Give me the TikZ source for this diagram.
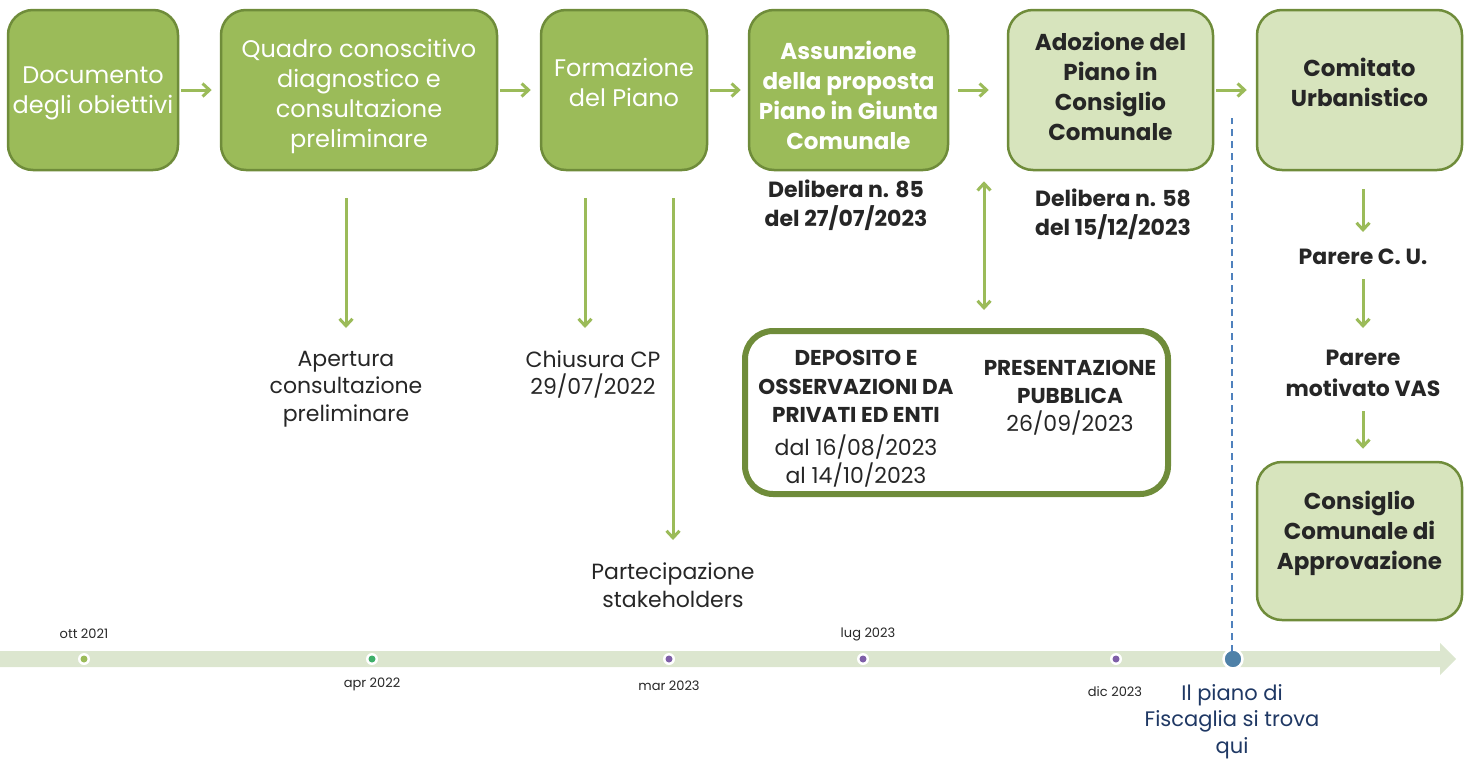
\documentclass[tikz,border=0pt]{standalone}
\usepackage{fontspec}
\setmainfont{Poppins}
\usetikzlibrary{arrows.meta}
\definecolor{gfill}{HTML}{9BBB59}
\definecolor{gline}{HTML}{6F8C3A}
\definecolor{lfill}{HTML}{D7E4BD}
\definecolor{band}{HTML}{DCE6CF}
\definecolor{txt}{HTML}{262626}
\definecolor{navy}{HTML}{1F3864}
\definecolor{dblue}{HTML}{4F81BD}
\definecolor{dotblue}{HTML}{4F81A8}
\definecolor{dotgreen}{HTML}{9BBB59}
\definecolor{dotgreen2}{HTML}{3FAF6A}
\definecolor{dotpurple}{HTML}{7F5FA8}
\tikzset{
  dbox/.style={draw=gline, line width=2.5pt, fill=gfill, rounded corners=25pt, inner sep=0pt, minimum height=160pt},
  lbox/.style={dbox, fill=lfill},
  wtxt/.style={inner sep=0pt, align=center, text=white, font=\fontsize{24}{30}\selectfont},
  wbtxt/.style={inner sep=0pt, align=center, text=white, font=\fontsize{23}{30}\selectfont\bfseries},
  dbtxt/.style={inner sep=0pt, align=center, text=txt, font=\fontsize{23}{30}\selectfont\bfseries},
  arr/.style={draw=gfill, line width=3pt, -{Straight Barb[length=7pt,width=13pt,line width=3pt]}},
  darr/.style={draw=gfill, line width=3pt, {Straight Barb[length=7pt,width=13pt,line width=3pt]}-{Straight Barb[length=7pt,width=13pt,line width=3pt]}},
  lab/.style={inner sep=0pt, align=center, text=txt, font=\fontsize{22}{27.5}\selectfont},
  blab/.style={inner sep=0pt, align=center, text=txt, font=\fontsize{22}{29}\selectfont\bfseries},
  tlab/.style={inner sep=0pt, text=txt, font=\fontsize{13}{15}\selectfont},
  sdot/.style={circle, fill=white, minimum size=12pt, inner sep=0pt},
}
\newcommand{\regf}{\mdseries\fontsize{22}{30}\selectfont}
\begin{document}
\begin{tikzpicture}[x=1pt,y=-1pt]
\useasboundingbox (0,0) rectangle (1469,758);

% top boxes
\node[dbox, minimum width=170pt] (b1) at (93,90) {};
\node[dbox, minimum width=276pt] (b2) at (359,90) {};
\node[dbox, minimum width=166pt] (b3) at (624,90) {};
\node[dbox, minimum width=199pt] (b4) at (848.5,90) {};
\node[lbox, minimum width=205pt] (b5) at (1110.5,90) {};
\node[lbox, minimum width=205pt] (b6) at (1359.5,90) {};
\node[lbox, minimum width=205pt, minimum height=158pt] (b7) at (1359.5,541) {};

\node[wtxt] (b1t) at ([yshift=-3.5pt]b1.center) {Documento\\degli obiettivi};
\node[wtxt] (b2t) at ([yshift=-6pt]b2.center) {Quadro conoscitivo\\diagnostico e\\consultazione\\preliminare};
\node[wtxt] (b3t) at ([yshift=8pt]b3.center) {Formazione\\del Piano};
\node[wbtxt] (b4t) at ([yshift=-5pt]b4.center) {Assunzione\\della proposta\\Piano in Giunta\\Comunale};
\node[dbtxt] (b5t) at ([yshift=3.5pt]b5.center) {Adozione del\\Piano in\\Consiglio\\Comunale};
\node[dbtxt] (b6t) at ([yshift=7.5pt]b6.center) {Comitato\\Urbanistico};
\node[dbtxt] (b7t) at ([yshift=7.5pt]b7.center) {Consiglio\\Comunale di\\Approvazione};

% horizontal arrows
\draw[arr, shorten <=2pt, shorten >=8pt] (b1.east) -- (b2.west);
\draw[arr, shorten <=2pt, shorten >=9pt] (b2.east) -- (b3.west);
\draw[arr, shorten <=2pt, shorten >=7pt] (b3.east) -- (b4.west);
\draw[arr, shorten <=9pt, shorten >=18pt] (b4.east) -- (b5.west);
\draw[arr, shorten <=2pt, shorten >=9pt] (b5.east) -- (b6.west);

% labels under boxes
\node[lab, anchor=north] (apert) at (346,351) {Apertura\\consultazione\\preliminare};
\node[lab, anchor=north] (chius) at (593,350.5) {Chiusura CP\\29/07/2022};
\node[lab, anchor=north] (parte) at (673,563) {Partecipazione\\stakeholders};
\node[blab, anchor=north] (del85) at (846,179.5) {Delibera n. 85\\del 27/07/2023};
\node[blab, anchor=north] (del58) at (1113,188.5) {Delibera n. 58\\del 15/12/2023};
\node[blab, anchor=north] (pcu) at (1363,249) {Parere C. U.};
\node[blab, anchor=north, font=\fontsize{22}{31}\selectfont\bfseries] (pvas) at (1363,350) {Parere\\motivato VAS};

% vertical arrows
\draw[arr, shorten <=27pt, shorten >=23pt] (b2.south -| apert.north) -- (apert.north);
\draw[arr, shorten <=27pt, shorten >=22.5pt] ([xshift=-39pt]b3.south) -- ([xshift=-8pt]chius.north);
\draw[arr, shorten <=27pt, shorten >=23pt] (b3.south -| parte.north) -- (parte.north);
\draw[arr, shorten <=18pt, shorten >=17pt] (b6.south -| pcu.north) -- (pcu.north);
\draw[arr, shorten <=14pt, shorten >=22pt] (pcu.south -| pvas.north) -- (pvas.north);
\draw[arr, shorten <=14pt, shorten >=12pt] (pvas.south) -- (pvas.south |- b7.north);

% deposit box
\node[draw=gline, line width=6pt, fill=white, rounded corners=28pt, minimum width=423pt, minimum height=163pt] (dep) at (956.5,412.5) {};
\node[inner sep=0pt, align=center, text=txt, anchor=north, font=\fontsize{21.5}{28.5}\selectfont\bfseries] (depl) at (856,350) {DEPOSITO E\\OSSERVAZIONI DA\\PRIVATI ED ENTI\\[4pt]\regf dal 16/08/2023\\\regf al 14/10/2023};
\node[inner sep=0pt, align=center, text=txt, anchor=north, font=\fontsize{21.5}{28}\selectfont\bfseries] (depr) at (1070,360) {PRESENTAZIONE\\PUBBLICA\\\regf 26/09/2023};
\draw[darr, shorten <=18pt, shorten >=10pt] ([xshift=27.5pt]dep.north) -- ([xshift=27.5pt]dep.north |- b4.south);

% timeline
\fill[band] (0,651) -- (1440,651) -- (1440,643) -- (1456,659) -- (1440,675) -- (1440,667) -- (0,667) -- cycle;
\node[sdot] (t1) at (84,659) {};
\node[sdot] (t2) at (372,659) {};
\node[sdot] (t3) at (669,659) {};
\node[sdot] (t4) at (863,659) {};
\node[sdot] (t5) at (1116,659) {};
\fill[dotgreen] (t1) circle (3.5);
\fill[dotgreen2] (t2) circle (3.5);
\fill[dotpurple] (t3) circle (3.5);
\fill[dotpurple] (t4) circle (3.5);
\fill[dotpurple] (t5) circle (3.5);
\node[circle, fill=dotblue, draw=white, line width=2.5pt, minimum size=19pt, inner sep=0pt] (now) at (1233,659) {};

\node[tlab] (l1) at (84,634) {ott 2021};
\node[tlab] (l2) at (372,684) {apr 2022};
\node[tlab] (l3) at (669,686) {mar 2023};
\node[tlab] (l4) at (868,634) {lug 2023};
\node[tlab] (l5) at (1115,692) {dic 2023};
\node[inner sep=0pt, align=center, text=navy, font=\fontsize{21}{26.5}\selectfont, anchor=north] (here) at (1232,684) {Il piano di\\Fiscaglia si trova\\qui};

\coordinate (dtop) at (1232,118);
\draw[dblue, line width=2.5pt, dash pattern=on 7pt off 5pt] ([yshift=-4pt]now.north -| dtop) -- (dtop);
\end{tikzpicture}
\end{document}
